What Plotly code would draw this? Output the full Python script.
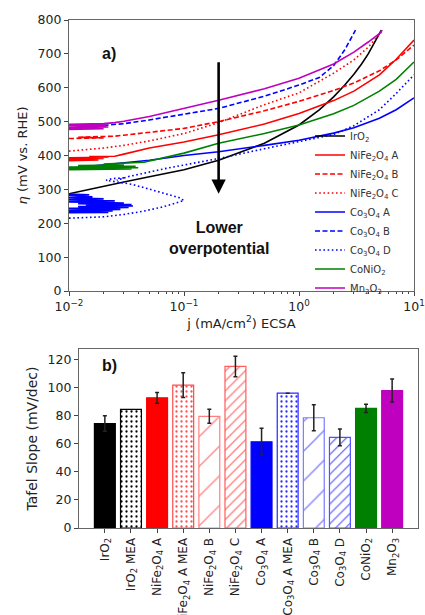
import math
import plotly.graph_objects as go

# ---------------- a) Tafel curves: j (mA/cm2 ECSA) vs overpotential (mV) ----------------
IRO2_J = [0.01, 0.012, 0.015, 0.02, 0.03, 0.05, 0.1, 0.2, 0.5, 1, 1.5, 2, 2.5, 3, 3.5, 4, 4.5, 5, 5.2]
IRO2_ETA = [287, 293, 300, 310, 322, 337, 358, 386, 436, 490, 535, 573, 608, 640, 670, 700, 732, 760, 770]

NIFE_A_J = [0.01, 0.018, 0.01, 0.02, 0.01, 0.022, 0.015, 0.025, 0.03, 0.05, 0.1, 0.2, 0.5, 1, 2, 3, 5, 7, 10]
NIFE_A_ETA = [385, 387, 389, 391, 393, 395, 397, 398, 404, 422, 440, 461, 493, 524, 562, 590, 638, 684, 741]

NIFE_B_J = [0.01, 0.02, 0.012, 0.025, 0.03, 0.05, 0.1, 0.2, 0.5, 1, 2, 3, 5, 7, 10]
NIFE_B_ETA = [450, 452, 454, 457, 460, 468, 480, 500, 532, 560, 592, 614, 650, 682, 726]

NIFE_C_J = [0.01, 0.015, 0.02, 0.03, 0.05, 0.1, 0.2, 0.5, 1, 2, 3, 4, 5, 5.4]
NIFE_C_ETA = [413, 417, 422, 430, 443, 465, 497, 550, 585, 643, 682, 720, 755, 770]

CO3O4_A_J = [0.01, 0.022, 0.01, 0.024, 0.01, 0.028, 0.01, 0.033, 0.012, 0.036, 0.014, 0.035,
             0.012, 0.03, 0.01, 0.025, 0.01, 0.02, 0.01, 0.016, 0.01, 0.015, 0.01, None,
             0.01, 0.02, 0.05, 0.1, 0.2, 0.5, 1, 2, 3, 5, 7, 10]
CO3O4_A_ETA = [231, 232, 234, 236, 238, 241, 244, 247, 249, 251, 253, 255,
               258, 260, 263, 266, 269, 272, 275, 278, 281, 284, 286, None,
               362, 372, 386, 400, 411, 430, 445, 466, 482, 510, 535, 570]

CO3O4_B_J = [0.02, 0.03, 0.05, 0.1, 0.2, 0.5, 1, 1.5, 2, 2.5, 3, 3.1]
CO3O4_B_ETA = [489, 494, 505, 522, 539, 575, 608, 630, 665, 712, 760, 770]

CO3O4_D_J = [0.01, 0.015, 0.02, 0.03, 0.045, 0.065, 0.085, 0.1, 0.09, 0.075, 0.06, 0.045,
             0.035, 0.025, 0.021, 0.024, 0.03, 0.026, 0.033, 0.04, 0.05, 0.07, 0.1, 0.2,
             0.5, 1, 2, 3, 5, 7, 10]
CO3O4_D_ETA = [215, 217, 219, 226, 236, 248, 259, 267, 276, 284, 293, 305,
               315, 322, 327, 332, 334, 327, 338, 344, 352, 362, 372, 391,
               420, 442, 462, 488, 535, 583, 638]

CONIO2_J = [0.01, 0.035, 0.01, 0.04, 0.01, 0.038, 0.012, 0.03, 0.02, 0.045, 0.05, 0.1, 0.2,
            0.5, 1, 2, 3, 5, 7, 10]
CONIO2_ETA = [358, 360, 362, 364, 366, 368, 370, 372, 375, 380, 384, 407, 436,
              465, 490, 523, 548, 590, 625, 676]

MN2O3_J = [0.01, 0.02, 0.01, 0.022, 0.01, 0.021, 0.01, 0.02, 0.025, 0.03, 0.05, 0.1, 0.2,
           0.5, 1, 2, 3, 4, 5, 5.3]
MN2O3_ETA = [477, 479, 482, 484, 487, 489, 492, 494, 497, 501, 515, 538, 563,
             597, 628, 670, 705, 735, 760, 770]

# ---------------- b) Tafel slopes ----------------
CATEGORIES = [
    "IrO<sub>2</sub>", "IrO<sub>2</sub> MEA",
    "NiFe<sub>2</sub>O<sub>4</sub> A", "NiFe<sub>2</sub>O<sub>4</sub> A MEA",
    "NiFe<sub>2</sub>O<sub>4</sub> B", "NiFe<sub>2</sub>O<sub>4</sub> C",
    "Co<sub>3</sub>O<sub>4</sub> A", "Co<sub>3</sub>O<sub>4</sub> A MEA",
    "Co<sub>3</sub>O<sub>4</sub> B", "Co<sub>3</sub>O<sub>4</sub> D",
    "CoNiO<sub>2</sub>", "Mn<sub>2</sub>O<sub>3</sub>",
]
TAFEL_SLOPE = [74.5, 84.5, 92.8, 101.8, 79.6, 115.2, 61.5, 96.1, 78.6, 64.6, 85.3, 98.0]
TAFEL_ERR = [5.5, None, 3.8, 8.8, 5.0, 7.3, 9.6, 0.0, 9.2, 6.0, 2.9, 8.2]

# bar styling: fill, edge/hatch colour, hatch shape, hatch spacing, hatch solidity
BAR_FILL = ["#000000", "#ffffff", "#ff0000", "#ffffff", "#ffffff", "#ffffff",
            "#0000ff", "#ffffff", "#ffffff", "#ffffff", "#008000", "#bf00bf"]
BAR_EDGE = ["#000000", "#000000", "#ff0000", "#ff4d4d", "#ff8080", "#ff5c5c",
            "#0000ff", "#2a2aff", "#7b7bff", "#5050ff", "#008000", "#bf00bf"]
BAR_PATTERN = ["", ".", "", ".", "/", "/", "", ".", "/", "/", "", ""]
BAR_PATTERN_SIZE = [8, 5, 8, 5, 21, 7, 8, 5, 21, 7, 8, 8]
BAR_PATTERN_SOLIDITY = [0, 0.16, 0, 0.16, 0.06, 0.16, 0, 0.16, 0.06, 0.16, 0, 0]

FONT = "DejaVu Sans"
BOLD_FONT = "Liberation Sans"
AXIS_GRAY = "#666666"
TEXT = "#222222"

curves = [
    ("IrO<sub>2</sub>", IRO2_J, IRO2_ETA, "#000000", "solid"),
    ("NiFe<sub>2</sub>O<sub>4</sub> A", NIFE_A_J, NIFE_A_ETA, "#ff0000", "solid"),
    ("NiFe<sub>2</sub>O<sub>4</sub> B", NIFE_B_J, NIFE_B_ETA, "#ff0000", "5px,2.5px"),
    ("NiFe<sub>2</sub>O<sub>4</sub> C", NIFE_C_J, NIFE_C_ETA, "#ff0000", "1.6px,2.6px"),
    ("Co<sub>3</sub>O<sub>4</sub> A", CO3O4_A_J, CO3O4_A_ETA, "#0000ff", "solid"),
    ("Co<sub>3</sub>O<sub>4</sub> B", CO3O4_B_J, CO3O4_B_ETA, "#0000ff", "5px,2.5px"),
    ("Co<sub>3</sub>O<sub>4</sub> D", CO3O4_D_J, CO3O4_D_ETA, "#0000ff", "1.6px,2.6px"),
    ("CoNiO<sub>2</sub>", CONIO2_J, CONIO2_ETA, "#008000", "solid"),
    ("Mn<sub>2</sub>O<sub>3</sub>", MN2O3_J, MN2O3_ETA, "#bf00bf", "solid"),
]

fig = go.Figure()

for name, j, eta, color, dash in curves:
    fig.add_trace(go.Scatter(
        x=j, y=eta, mode="lines", name=name,
        line=dict(color=color, width=1.6, dash=dash),
        connectgaps=False, xaxis="x", yaxis="y",
    ))

# one bar trace per material so each carries its own fill / hatch
for i, cat in enumerate(CATEGORIES):
    marker = dict(color=BAR_FILL[i], line=dict(color=BAR_EDGE[i], width=1.2))
    if BAR_PATTERN[i]:
        marker["pattern"] = dict(shape=BAR_PATTERN[i], fgcolor=BAR_EDGE[i], bgcolor="#ffffff",
                                 size=BAR_PATTERN_SIZE[i], solidity=BAR_PATTERN_SOLIDITY[i],
                                 fillmode="replace")
    err = TAFEL_ERR[i]
    fig.add_trace(go.Bar(
        x=[cat], y=[TAFEL_SLOPE[i]], width=0.8, showlegend=False,
        xaxis="x2", yaxis="y2", marker=marker,
        error_y=dict(type="data", array=[err], visible=err is not None,
                     color="#222222", thickness=1.5, width=2),
    ))

minor_j = [m * 10 ** e for e in (-2, -1, 0) for m in range(2, 10)]

W, H = 425, 615
top = dict(l=69, r=414, t=20, b=291)
bot = dict(l=79, r=418, t=349, b=528)

axis_common = dict(
    showline=True, linecolor=AXIS_GRAY, linewidth=1.2, mirror=True,
    showgrid=False, zeroline=False, ticks="outside", ticklen=4, tickwidth=1,
    tickcolor="#444444", automargin=False,
)

fig.update_layout(
    width=W, height=H,
    margin=dict(l=0, r=0, t=0, b=0),
    paper_bgcolor="white", plot_bgcolor="white",
    font=dict(family=FONT, color=TEXT),
    barmode="overlay",
    xaxis=dict(
        **axis_common, type="log", range=[-2, 1],
        tickfont=dict(family=FONT, size=12.5, color=TEXT),
        domain=[top["l"] / W, top["r"] / W], anchor="y",
        tickvals=[0.01, 0.1, 1, 10],
        ticktext=["10<sup>\u22122</sup>", "10<sup>\u22121</sup>", "10<sup>0</sup>", "10<sup>1</sup>"],
        minor=dict(tickvals=minor_j, ticks="outside", ticklen=2, tickcolor="#444444"),
        title=dict(text="j (mA/cm<sup>2</sup>) ECSA", standoff=4,
                   font=dict(family=FONT, size=13, color=TEXT)),
    ),
    yaxis=dict(
        **axis_common, range=[0, 800], dtick=100,
        tickfont=dict(family=FONT, size=12.5, color=TEXT),
        domain=[1 - top["b"] / H, 1 - top["t"] / H], anchor="x",
        title=dict(text="<i>\u03b7</i> (mV vs. RHE)", standoff=6,
                   font=dict(family=FONT, size=13, color=TEXT)),
    ),
    xaxis2=dict(
        **axis_common, type="category", range=[-0.99, 11.99], tickangle=-90,
        categoryorder="array", categoryarray=CATEGORIES,
        tickfont=dict(family=FONT, size=12, color=TEXT),
        domain=[bot["l"] / W, bot["r"] / W], anchor="y2",
    ),
    yaxis2=dict(
        **axis_common, range=[0, 127.6], dtick=20,
        tickfont=dict(family=FONT, size=12.5, color=TEXT),
        domain=[1 - bot["b"] / H, 1 - bot["t"] / H], anchor="x2",
        title=dict(text="Tafel Slope (mV/dec)", standoff=6,
                   font=dict(family=FONT, size=14, color=TEXT)),
    ),
    legend=dict(
        x=310 / W, y=1 - 212 / H, xanchor="left", yanchor="middle",
        bgcolor="rgba(255,255,255,0)", borderwidth=0,
        font=dict(family=FONT, size=10, color="#333333"),
        tracegroupgap=0,
    ),
)

# arrow and label marking the direction of lower overpotential
ARROW_J = 0.2
ARROW_FROM, ARROW_TO = 680, 287
fig.add_annotation(
    x=math.log10(ARROW_J), y=ARROW_TO, ax=math.log10(ARROW_J), ay=ARROW_FROM,
    xref="x", yref="y", axref="x", ayref="y",
    showarrow=True, arrowhead=2, arrowsize=1.1, arrowwidth=2.6, arrowcolor="#000000", text="",
)
fig.add_annotation(
    x=math.log10(ARROW_J), y=157, xref="x", yref="y", showarrow=False,
    text="<b>Lower<br>overpotential</b>",
    font=dict(family=BOLD_FONT, size=16, color="#111111"), align="center",
)

# panel labels
fig.add_annotation(x=100 / W, y=1 - 43 / H, xref="paper", yref="paper", showarrow=False,
                   text="<b>a)</b>", font=dict(family=BOLD_FONT, size=16, color="#111111"))
fig.add_annotation(x=100 / W, y=1 - 365 / H, xref="paper", yref="paper", showarrow=False,
                   text="<b>b)</b>", font=dict(family=BOLD_FONT, size=16, color="#111111"))

fig.write_html("out.html")
